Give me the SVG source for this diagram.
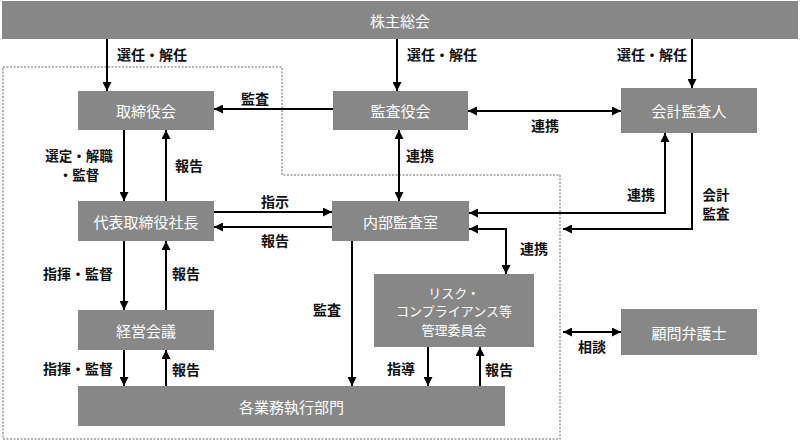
<svg xmlns="http://www.w3.org/2000/svg" width="800" height="441" viewBox="0 0 800 441">
<style>
.box{fill:#878787;}
.bt{fill:#fff;font-family:"Noto Sans CJK JP","Noto Sans",sans-serif;font-size:15px;text-anchor:middle;dominant-baseline:central;}
.rt{font-size:13px;}
.lb{fill:#111;font-family:"Noto Sans CJK JP","Noto Sans",sans-serif;font-size:14px;font-weight:600;text-anchor:middle;dominant-baseline:central;}
.l2{font-size:13.5px;}
.ln{fill:none;stroke:#000;stroke-width:2;}
.e{marker-end:url(#ah);}
.s{marker-start:url(#ah);}
</style>
<defs>
<marker id="ah" viewBox="0 0 10 10" refX="10" refY="5" markerWidth="9" markerHeight="9" markerUnits="userSpaceOnUse" orient="auto-start-reverse">
<path d="M0,0 L10,5 L0,10 z" fill="#000"/>
</marker>
</defs>
<rect width="800" height="441" fill="#fff"/>
<polygon id="boundary" points="3,67 282,67 282,175 560,175 560,439 3,439" fill="none" stroke="#9a9a9a" stroke-width="1.5" stroke-dasharray="2,1.5"/>

<g id="n-shareholders"><rect class="box" x="2" y="1" width="796" height="38"/><text class="bt" x="400" y="20">株主総会</text></g>
<g id="n-board"><rect class="box" x="78" y="91" width="136" height="39"/><text class="bt" x="146" y="110.5">取締役会</text></g>
<g id="n-auditors"><rect class="box" x="333" y="91" width="135" height="39"/><text class="bt" x="400.5" y="110.5">監査役会</text></g>
<g id="n-accountant"><rect class="box" x="621" y="88" width="136" height="45"/><text class="bt" x="689" y="110.5">会計監査人</text></g>
<g id="n-president"><rect class="box" x="78" y="201" width="136" height="40"/><text class="bt" x="146" y="221">代表取締役社長</text></g>
<g id="n-internal"><rect class="box" x="332" y="201" width="137" height="40"/><text class="bt" x="400.5" y="221">内部監査室</text></g>
<g id="n-mgmt"><rect class="box" x="78" y="310" width="136" height="40"/><text class="bt" x="146" y="330">経営会議</text></g>
<g id="n-risk"><rect class="box" x="374" y="274" width="160" height="73"/><text class="bt rt" x="454" y="292">リスク・</text><text class="bt rt" x="454" y="310.5">コンプライアンス等</text><text class="bt rt" x="454" y="329">管理委員会</text></g>
<g id="n-depts"><rect class="box" x="78" y="386" width="427" height="40"/><text class="bt" x="291.5" y="406">各業務執行部門</text></g>
<g id="n-lawyer"><rect class="box" x="621" y="309" width="136" height="46"/><text class="bt" x="689" y="332">顧問弁護士</text></g>

<g id="connectors">
<line class="ln e" x1="107" y1="39" x2="107" y2="91"/>
<line class="ln e" x1="397" y1="39" x2="397" y2="91"/>
<line class="ln e" x1="692" y1="39" x2="692" y2="88"/>
<line class="ln e" x1="333" y1="109" x2="214" y2="109"/>
<line class="ln e s" x1="468" y1="111" x2="621" y2="111"/>
<line class="ln e s" x1="399" y1="130" x2="399" y2="201"/>
<line class="ln e" x1="124" y1="130" x2="124" y2="201"/>
<line class="ln e" x1="166" y1="201" x2="166" y2="130"/>
<line class="ln e" x1="214" y1="212" x2="332" y2="212"/>
<line class="ln e" x1="332" y1="227" x2="214" y2="227"/>
<polyline class="ln e s" points="469,213 665,213 665,133"/>
<polyline class="ln e" points="692,133 692,229 563,229"/>
<polyline class="ln e s" points="469,229 506,229 506,274"/>
<line class="ln e" x1="352" y1="241" x2="352" y2="386"/>
<line class="ln e" x1="124" y1="241" x2="124" y2="310"/>
<line class="ln e" x1="166" y1="310" x2="166" y2="241"/>
<line class="ln e" x1="124" y1="350" x2="124" y2="386"/>
<line class="ln e" x1="166" y1="386" x2="166" y2="350"/>
<line class="ln e" x1="428" y1="347" x2="428" y2="386"/>
<line class="ln e" x1="480" y1="386" x2="480" y2="347"/>
<line class="ln e s" x1="563" y1="332" x2="621" y2="332"/>
</g>

<g id="labels">
<text class="lb" x="152" y="54">選任・解任</text>
<text class="lb" x="442" y="54">選任・解任</text>
<text class="lb" x="652" y="54">選任・解任</text>
<text class="lb" x="255" y="98">監査</text>
<text class="lb" x="545" y="125">連携</text>
<text class="lb" x="420" y="155">連携</text>
<text class="lb l2" x="79" y="155">選定・解職</text>
<text class="lb l2" x="79" y="174">・監督</text>
<text class="lb" x="189" y="165">報告</text>
<text class="lb" x="275" y="201">指示</text>
<text class="lb" x="275" y="240">報告</text>
<text class="lb" x="641" y="194">連携</text>
<text class="lb l2" x="716" y="194">会計</text>
<text class="lb l2" x="716" y="213">監査</text>
<text class="lb" x="534" y="248">連携</text>
<text class="lb" x="327" y="309">監査</text>
<text class="lb" x="78" y="273">指揮・監督</text>
<text class="lb" x="186" y="273">報告</text>
<text class="lb" x="78" y="368">指揮・監督</text>
<text class="lb" x="186" y="369">報告</text>
<text class="lb" x="401" y="368">指導</text>
<text class="lb" x="499" y="369">報告</text>
<text class="lb" x="592" y="346">相談</text>
</g>
</svg>
